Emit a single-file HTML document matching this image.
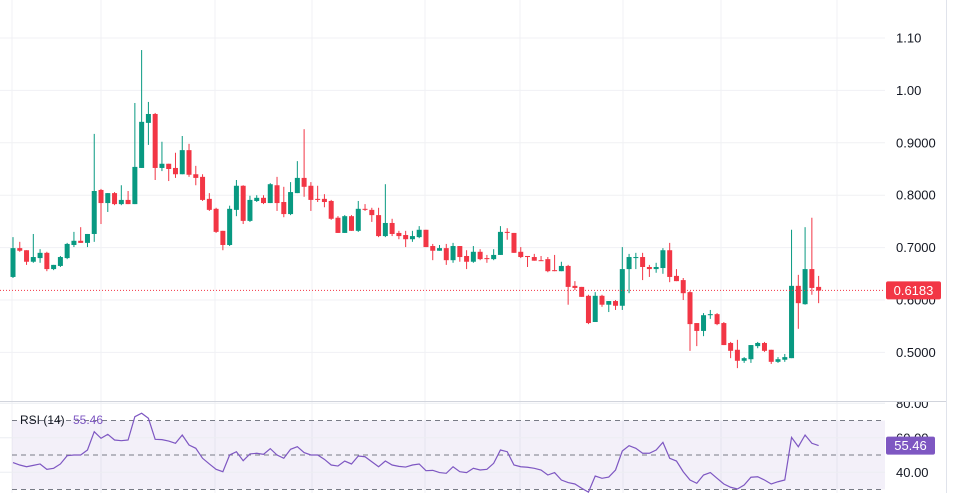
<!DOCTYPE html>
<html><head><meta charset="utf-8"><style>
html,body{margin:0;padding:0;background:#fff;width:957px;height:493px;overflow:hidden}
svg{display:block;font-family:"Liberation Sans",sans-serif}
</style></head><body>
<svg id="chart" width="957" height="493" viewBox="0 0 957 493" xmlns="http://www.w3.org/2000/svg"></svg>
<script>
const opens=[.644,.699,.695,.673,.680,.690,.659,.665,.680,.705,.713,.709,.726,.810,.785,.804,.783,.791,.783,.852,.938,.955,.852,.860,.852,.840,.886,.840,.835,.793,.774,.732,.705,.772,.818,.751,.789,.795,.785,.819,.787,.764,.804,.833,.818,.793,.793,.789,.757,.728,.760,.732,.774,.772,.762,.722,.747,.728,.724,.716,.720,.734,.703,.694,.699,.676,.703,.684,.673,.692,.680,.678,.686,.730,.728,.692,.684,.682,.676,.678,.657,.655,.665,.627,.625,.608,.558,.608,.591,.598,.589,.659,.680,.682,.663,.659,.661,.695,.646,.638,.615,.556,.541,.571,.573,.556,.518,.505,.484,.487,.512,.518,.505,.482,.486,.489,.627,.592,.659,.625];
const highs=[.720,.711,.695,.726,.697,.692,.667,.684,.709,.730,.739,.726,.917,.812,.804,.806,.819,.808,.976,1.077,.978,.957,.902,.860,.881,.913,.898,.856,.840,.804,.776,.732,.780,.829,.819,.799,.800,.800,.823,.835,.816,.825,.865,.926,.825,.818,.802,.791,.760,.762,.762,.789,.783,.776,.776,.821,.755,.732,.732,.732,.741,.734,.707,.705,.707,.709,.703,.695,.703,.697,.686,.697,.741,.737,.728,.701,.684,.688,.684,.682,.686,.673,.667,.636,.625,.610,.615,.610,.598,.600,.701,.688,.690,.690,.667,.671,.699,.709,.659,.642,.617,.556,.575,.581,.575,.558,.520,.524,.491,.514,.520,.520,.505,.491,.497,.734,.648,.739,.757,.646];
const lows=[.642,.692,.667,.671,.671,.655,.657,.663,.678,.701,.709,.701,.711,.745,.768,.781,.781,.783,.783,.852,.896,.829,.846,.827,.833,.840,.835,.819,.789,.770,.728,.695,.703,.760,.745,.749,.787,.783,.785,.770,.758,.762,.804,.797,.770,.787,.777,.753,.728,.728,.732,.730,.770,.749,.720,.720,.722,.716,.701,.711,.718,.701,.676,.694,.667,.671,.673,.659,.671,.676,.671,.676,.686,.715,.690,.680,.663,.675,.675,.653,.655,.655,.591,.619,.606,.554,.558,.587,.577,.581,.581,.613,.659,.638,.644,.652,.650,.634,.636,.600,.503,.512,.531,.564,.552,.514,.489,.470,.480,.480,.508,.501,.478,.480,.482,.489,.545,.591,.610,.594];
const closes=[.699,.694,.673,.682,.690,.659,.667,.682,.707,.713,.709,.726,.808,.785,.804,.783,.791,.783,.854,.940,.955,.852,.860,.850,.840,.886,.839,.833,.791,.772,.730,.705,.774,.818,.751,.791,.795,.785,.821,.785,.764,.806,.833,.816,.791,.791,.787,.755,.728,.760,.732,.774,.772,.762,.722,.747,.726,.722,.716,.722,.734,.701,.694,.699,.676,.703,.682,.673,.692,.678,.678,.686,.730,.728,.690,.682,.682,.675,.675,.655,.655,.665,.625,.623,.606,.556,.608,.591,.598,.589,.659,.682,.682,.663,.659,.663,.695,.644,.636,.613,.554,.541,.571,.573,.554,.514,.503,.484,.489,.514,.518,.503,.482,.487,.491,.627,.594,.659,.623,.618];
const rsiValues=[45.6,44.2,43.2,44.0,44.8,41.7,42.3,44.8,49.6,50.0,50.0,52.9,63.5,59.7,62.0,58.7,58.3,58.7,72.2,74.2,71.3,59.1,58.9,58.1,56.8,61.6,55.8,53.9,48.1,44.8,41.7,40.3,50.0,51.9,46.7,50.6,51.0,50.4,53.7,50.0,48.1,53.3,54.8,51.4,50.0,50.0,47.5,44.2,43.6,46.5,44.8,49.4,49.0,46.1,43.2,46.5,44.2,43.4,43.0,44.2,44.8,40.9,41.1,39.8,39.4,43.2,40.3,39.8,42.3,41.3,41.7,45.2,52.9,51.9,44.2,43.2,42.9,42.3,41.3,38.4,39.8,35.5,34.0,33.2,30.7,28.5,37.8,36.5,37.2,41.3,52.3,55.4,53.9,51.0,51.0,52.9,57.3,48.1,46.5,40.3,35.5,33.6,38.4,39.8,36.5,33.2,31.3,30.3,32.6,37.1,37.4,35.5,33.2,34.5,35.5,60.2,54.8,61.6,56.8,55.46];
const priceTicks=[1.10,1.00,0.900,0.800,0.700,0.600,0.500];
const priceTickLabels=["1.10","1.00","0.9000","0.8000","0.7000","0.6000","0.5000"];
const rsiTicks=[80,60,40];
const rsiTickLabels=["80.00","60.00","40.00"];
const lastPrice=0.6183;
const lastRsi=55.46;

const NS="http://www.w3.org/2000/svg";
const svg=document.getElementById('chart');
const X0=13,DX=6.77,PLOT_R=885;
const xAt=i=>X0+i*DX;
const yP=p=>38+(1.10-p)*524;
const yR=v=>455-(v-50)*1.725;
function mk(tag,attrs,parent){const e=document.createElementNS(NS,tag);for(const k in attrs)e.setAttribute(k,attrs[k]);(parent||svg).appendChild(e);return e;}

// vertical grid
const vgrid=[12,101,215,312,425,520,623,721,837];
vgrid.forEach(x=>{const l=mk('line',{x1:x,x2:x,y1:0,y2:493,stroke:'#f0f1f4','stroke-width':1});

});

// price grid + labels
priceTicks.forEach((p,i)=>{const y=yP(p);
const l=mk('line',{x1:0,x2:PLOT_R,y1:y,y2:y,stroke:'#f0f1f4','stroke-width':1});


const t=mk('text',{x:896,y:y+4.5,'font-size':13,fill:'#131722'});t.textContent=priceTickLabels[i];

});

// pane separator & right axis border
const sep=mk('line',{x1:0,x2:946,y1:401.5,y2:401.5,stroke:'#d1d4dc','stroke-width':1});


const ab=mk('line',{x1:946.5,x2:946.5,y1:0,y2:493,stroke:'#e0e3eb','stroke-width':1});



// candles
const cg=mk('g',{});


opens.forEach((o,i)=>{const c=closes[i],up=c>=o,col=up?'#089981':'#f23645',x=xAt(i);
const w=mk('line',{x1:x,x2:x,y1:yP(highs[i]),y2:yP(lows[i]),stroke:col,'stroke-width':1},cg);


const top=yP(Math.max(o,c)),bot=yP(Math.min(o,c));
const b=mk('rect',{x:x-2.5,y:top,width:5,height:Math.max(1,bot-top),fill:col},cg);

});

// last price line
const lp=mk('line',{x1:0,x2:PLOT_R,y1:yP(lastPrice),y2:yP(lastPrice),stroke:'#f23645','stroke-width':1,'stroke-dasharray':'1 2'});


const lpb=mk('rect',{x:886,y:yP(lastPrice)-9,width:55,height:18,rx:2,fill:'#f23645'});


const lpt=mk('text',{x:913.5,y:yP(lastPrice)+4.5,'font-size':13,fill:'#fff','text-anchor':'middle'});lpt.textContent=lastPrice.toFixed(4);



// RSI pane
const clip=mk('clipPath',{id:'rsiclip'});mk('rect',{x:0,y:402,width:957,height:91},clip);
const band=mk('rect',{x:12,y:yR(70),width:PLOT_R-12,height:yR(30)-yR(70),fill:'rgba(126,87,194,0.09)'});


rsiTicks.forEach((v,i)=>{const y=yR(v);
const l=mk('line',{x1:0,x2:PLOT_R,y1:y,y2:y,stroke:'#eceef2','stroke-width':1});


const t=mk('text',{x:896,y:y+4.5,'font-size':13,fill:'#131722','clip-path':'url(#rsiclip)'});t.textContent=rsiTickLabels[i];

});
[70,50,30].forEach(v=>{const l=mk('line',{x1:12,x2:PLOT_R,y1:yR(v),y2:yR(v),stroke:'#787b86','stroke-width':1,'stroke-dasharray':'5 4'});

});
const g2=mk('g',{'clip-path':'url(#rsiclip)'});
const pl=mk('polyline',{points:rsiValues.map((v,i)=>xAt(i)+','+yR(v)).join(' '),fill:'none',stroke:'#7e57c2','stroke-width':1.2},g2);


const rl=mk('text',{x:20,y:424,'font-size':12,fill:'#131722'});rl.textContent='RSI (14)';


const rv=mk('text',{x:73,y:424,'font-size':12,fill:'#7e57c2'});rv.textContent=lastRsi.toFixed(2);


const rb=mk('rect',{x:886,y:yR(lastRsi)-9,width:49,height:18,rx:2,fill:'#7e57c2'});


const rbt=mk('text',{x:910.5,y:yR(lastRsi)+4.5,'font-size':13,fill:'#fff','text-anchor':'middle'});rbt.textContent=lastRsi.toFixed(2);


</script>
</body></html>
